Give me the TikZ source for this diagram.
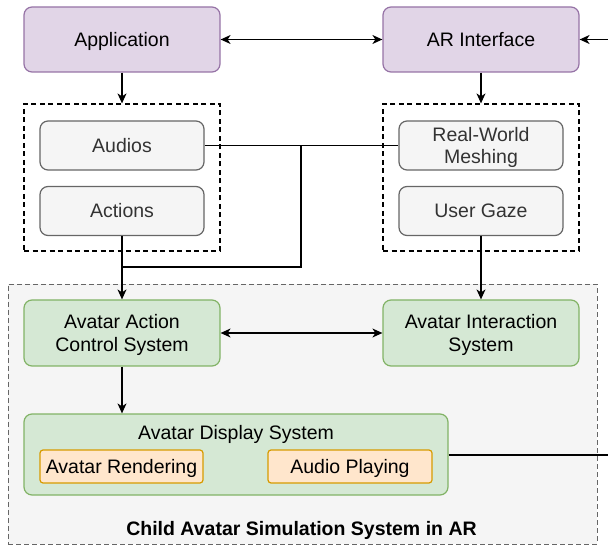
\documentclass[tikz,border=0pt]{standalone}
\usepackage{fontspec}
\setmainfont{Liberation Sans}
\usetikzlibrary{arrows.meta}
\definecolor{pfill}{HTML}{E1D5E7}\definecolor{pdraw}{HTML}{9673A6}
\definecolor{gfill}{HTML}{F5F5F5}\definecolor{gdraw}{HTML}{666666}
\definecolor{gtext}{HTML}{333333}
\definecolor{nfill}{HTML}{D5E8D4}\definecolor{ndraw}{HTML}{82B366}
\definecolor{ofill}{HTML}{FFE6CC}\definecolor{odraw}{HTML}{D79B00}
\newcommand{\topstrut}{\rule{0pt}{19pt}}
\tikzset{
  txt/.style={font=\fontsize{19.5}{23}\selectfont},
  one/.style={text height=14pt, text depth=0pt},
  box/.style={txt, rounded corners=8pt, line width=1.2pt, align=center, inner sep=0pt},
  purplebox/.style={box, fill=pfill, draw=pdraw},
  greybox/.style={box, fill=gfill, draw=gdraw, text=gtext},
  greenbox/.style={box, fill=nfill, draw=ndraw},
  orangebox/.style={txt, one, rounded corners=3pt, line width=1.2pt, fill=ofill, draw=odraw, inner sep=0pt},
  grp/.style={draw, dash pattern=on 5pt off 3.5pt, line width=1.2pt, minimum width=196pt, minimum height=147pt, inner sep=0pt},
  conn/.style={line width=1.3pt, draw=black},
  arr/.style={conn, -{Stealth[length=10pt,width=9pt,inset=3pt]}},
  darr/.style={conn, {Stealth[length=10pt,width=9pt,inset=3pt]}-{Stealth[length=10pt,width=9pt,inset=3pt]}},
}
\begin{document}
\begin{tikzpicture}[x=1pt,y=-1pt]
\useasboundingbox (0,0) rectangle (608,545);
% outer container
\node[draw=gdraw, fill=gfill, dash pattern=on 5pt off 3pt, line width=0.9pt, minimum width=589pt, minimum height=260pt, inner sep=0pt] (sys) at (302.5,414) {};
\node[font=\bfseries\fontsize{19.5}{23}\selectfont, anchor=base] (title) at (301.5,535) {Child Avatar Simulation System in AR};
% dashed groups
\node[grp] (lgrp) at (122,177.5) {};
\node[grp] (rgrp) at (481,177.5) {};
% top boxes
\node[purplebox, one, minimum width=196pt, minimum height=65pt] (app) at (122,39.5) {Application};
\node[purplebox, one, minimum width=196pt, minimum height=65pt] (ari) at (481,39.5) {AR Interface};
% grey boxes
\node[greybox, one, minimum width=164pt, minimum height=49pt] (aud) at (122,145.5) {Audios};
\node[greybox, one, minimum width=164pt, minimum height=49pt] (act) at (122,211) {Actions};
\node[greybox, font=\fontsize{19.5}{22}\selectfont, minimum width=164pt, minimum height=49pt] (mesh) at (481,145.5) {\topstrut Real-World\\Meshing};
\node[greybox, one, minimum width=164pt, minimum height=49pt] (gaze) at (481,211) {User Gaze};
% green boxes
\node[greenbox, minimum width=196pt, minimum height=66pt] (ctrl) at (122,333) {\topstrut Avatar Action\\Control System};
\node[greenbox, minimum width=196pt, minimum height=66pt] (inter) at (481,333) {\topstrut Avatar Interaction\\System};
\node[greenbox, minimum width=424pt, minimum height=81pt] (disp) at (236,454.5) {};
\node[txt, anchor=base] (displabel) at (236,439) {Avatar Display System};
\node[orangebox, minimum width=163pt, minimum height=33pt] (rend) at (121.5,466.5) {Avatar Rendering};
\node[orangebox, minimum width=164pt, minimum height=33pt] (play) at (350,466.5) {Audio Playing};
% coordinates
\coordinate (redge) at (608,39.5);
\coordinate (dedge) at (608,455);
\coordinate (junc) at (301,145.5);
\coordinate (jbot) at (301,267);
\coordinate (jleft) at (122,267);
% connectors
\draw[darr] (app) -- (ari);
\draw[arr] (redge) -- (ari);
\draw[arr] (app) -- (lgrp.north);
\draw[arr] (ari) -- (rgrp.north);
\draw[conn] (aud) -- (mesh);
\draw[conn] (junc) -- (jbot) -- (jleft);
\draw[arr] (act) -- (ctrl);
\draw[arr] (gaze) -- (inter);
\draw[darr] (ctrl) -- (inter);
\draw[arr] (ctrl) -- (ctrl.south |- disp.north);
\draw[conn] (disp.east |- dedge) -- (dedge);
\end{tikzpicture}
\end{document}
